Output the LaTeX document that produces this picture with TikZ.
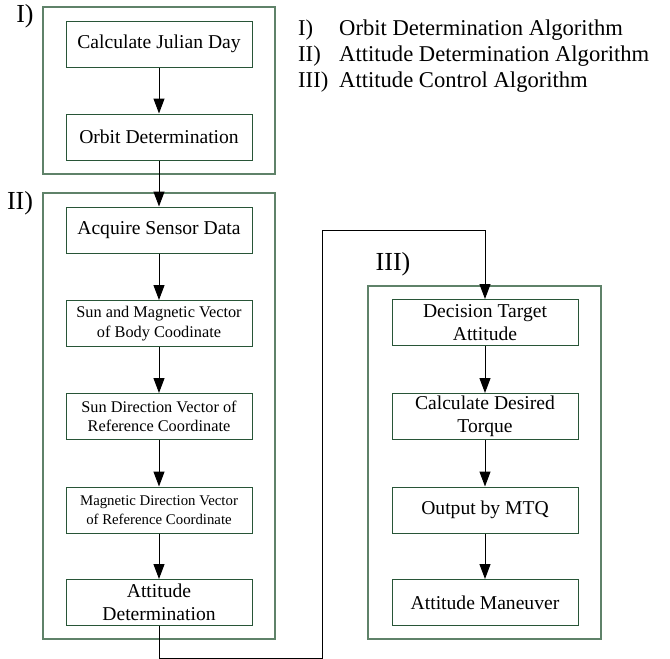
\documentclass[tikz,border=0pt]{standalone}
\usepackage{fontspec}
\setmainfont{Liberation Serif}
\usepackage{tikz}
\usetikzlibrary{arrows.meta}
\usetikzlibrary{positioning}
\definecolor{outergreen}{RGB}{95,130,105}
\definecolor{innergreen}{RGB}{40,85,55}

\begin{document}
\begin{tikzpicture}[x=1pt, y=-1pt,
    algbox/.style={draw=innergreen, line width=1pt, minimum width=186pt, minimum height=46pt, inner sep=0pt, align=center, font=\fontsize{19.6}{23}\selectfont},
    midtxt/.style={font=\fontsize{16.3}{19.5}\selectfont},
    smalltxt/.style={font=\fontsize{14.8}{18.5}\selectfont},
    grpbox/.style={draw=outergreen, line width=1.4pt, inner sep=0pt},
    grplabel/.style={font=\fontsize{26}{26}\selectfont},
    legtxt/.style={anchor=base west, inner sep=0pt, font=\fontsize{22.6}{25}\selectfont},
    flow/.style={-{Triangle[length=15pt,width=11pt]}, line width=1pt}]
            \useasboundingbox (0,0) rectangle (670,659);
            % groups
            \draw (159,90.5) node[grpbox, minimum width=232pt, minimum height=167pt]   (grpI) {};
            \draw (159,416) node[grpbox, minimum width=232pt, minimum height=446pt]    (grpII) {};
            \draw (484.5,462.5) node[grpbox, minimum width=233pt, minimum height=353pt] (grpIII) {};
            \draw (25,16) node[grplabel]                   (lblI) {I)};
            \draw (20,203) node[grplabel]                  (lblII) {II)};
            \draw (393,264) node[grplabel]                 (lblIII) {III)};
            % I) orbit
            \draw (159,44) node[algbox]                    (julian) {Calculate Julian Day};
            \draw (159,137) node[algbox]                   (orbit) {Orbit Determination};
            % II) attitude determination
            \draw (159,230) node[algbox]                   (sensor) {Acquire Sensor Data};
            \draw (159,323.5) node[algbox, midtxt]         (body) {Sun and Magnetic Vector\\of Body Coodinate};
            \draw (159,416.5) node[algbox, midtxt]         (sundir) {Sun Direction Vector of\\Reference Coordinate};
            \draw (159,510) node[algbox, smalltxt]         (magdir) {Magnetic Direction Vector\\of Reference Coordinate};
            \draw (159,602.5) node[algbox]                 (attdet) {Attitude\\Determination};
            % III) attitude control
            \draw (485,322.5) node[algbox]                 (target) {Decision Target\\Attitude};
            \draw (485,416.5) node[algbox]                 (torque) {Calculate Desired\\Torque};
            \draw (485,510) node[algbox]                   (mtq) {Output by MTQ};
            \draw (485,602.5) node[algbox]                 (maneuver) {Attitude Maneuver};
            % legend
            \draw (298,35) node[legtxt]                    (legI) {I)};
            \draw (298,61) node[legtxt]                    (legII) {II)};
            \draw (298,87) node[legtxt]                    (legIII) {III)};
            \draw (339,35) node[legtxt]                    (legItxt) {Orbit Determination Algorithm};
            \draw (339,61) node[legtxt]                    (legIItxt) {Attitude Determination Algorithm};
            \draw (339,87) node[legtxt]                    (legIIItxt) {Attitude Control Algorithm};
            % flow
            \coordinate (bendlow) at (322,658);
            \coordinate (bendtop) at (322,230);
            \draw[flow] (julian) -- (orbit);
            \draw[flow] (orbit) -- (sensor);
            \draw[flow] (sensor) -- (body);
            \draw[flow] (body) -- (sundir);
            \draw[flow] (sundir) -- (magdir);
            \draw[flow] (magdir) -- (attdet);
            \draw[flow] (attdet.south) |- (bendlow) -- (bendtop) -| (target.north);
            \draw[flow] (target) -- (torque);
            \draw[flow] (torque) -- (mtq);
            \draw[flow] (mtq) -- (maneuver);
\end{tikzpicture}
\end{document}
